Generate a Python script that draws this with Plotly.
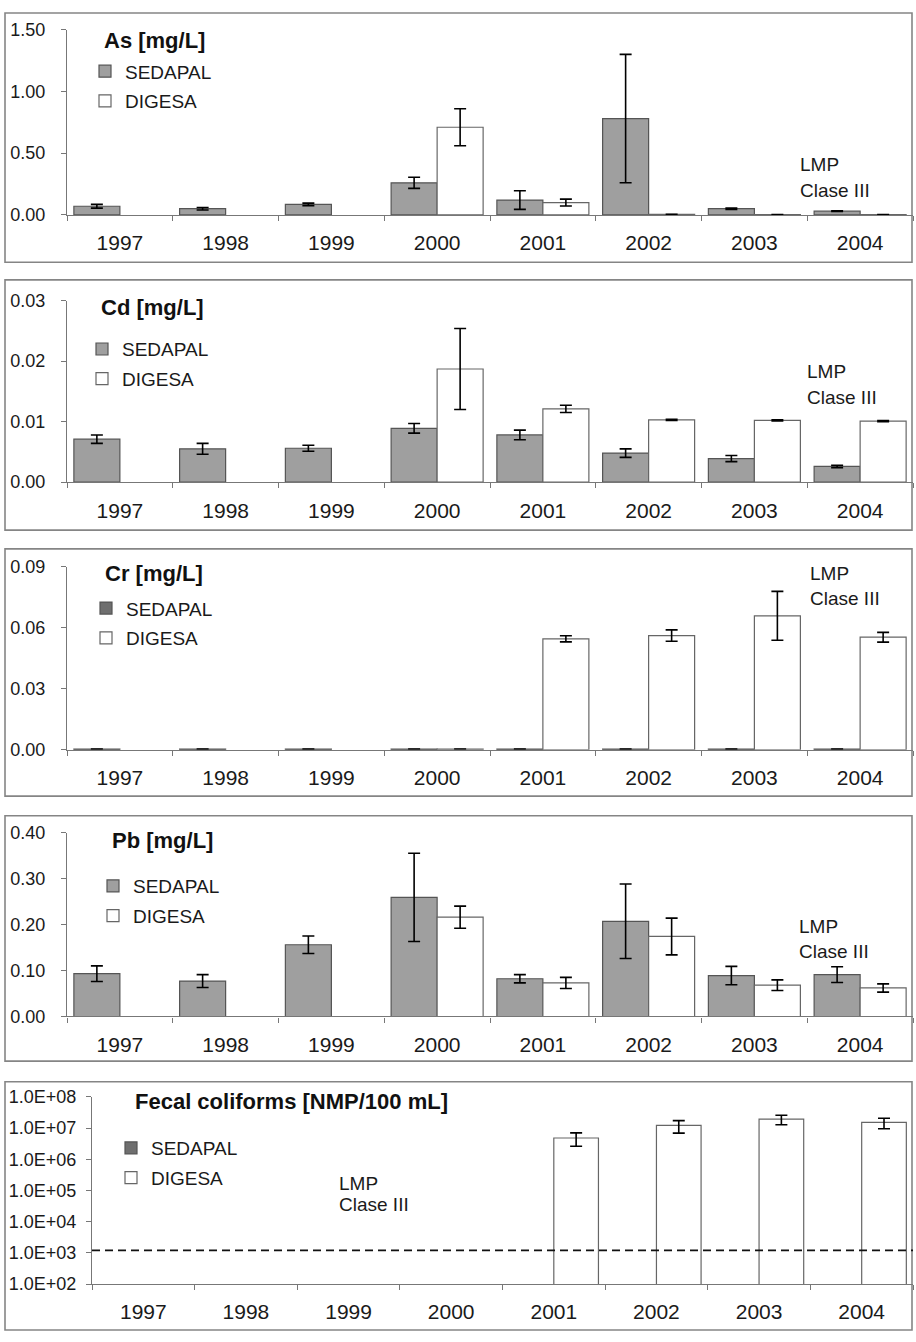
import plotly.graph_objects as go

W, H = 916, 1342

years = ['1997', '1998', '1999', '2000', '2001', '2002', '2003', '2004']
series_names = ['SEDAPAL', 'DIGESA']

# As [mg/L]
as_sedapal = [0.07, 0.05, 0.085, 0.26, 0.12, 0.78, 0.05, 0.03]
as_sedapal_err = [0.015, 0.01, 0.01, 0.045, 0.075, 0.52, 0.005, 0.003]
as_digesa = [None, None, None, 0.71, 0.10, 0.004, 0.003, 0.003]
as_digesa_err = [0, 0, 0, 0.15, 0.028, 0, 0, 0]

# Cd [mg/L]
cd_sedapal = [0.0071, 0.0055, 0.0056, 0.0089, 0.0078, 0.0048, 0.0039, 0.0026]
cd_sedapal_err = [0.0007, 0.0009, 0.0005, 0.0008, 0.0008, 0.0007, 0.0005, 0.0002]
cd_digesa = [None, None, None, 0.0187, 0.0121, 0.0103, 0.0102, 0.0101]
cd_digesa_err = [0, 0, 0, 0.0067, 0.0006, 0.0001, 0.0001, 0.0001]

# Cr [mg/L]
cr_sedapal = [0.0004, 0.0004, 0.0004, 0.0004, 0.0004, 0.0004, 0.0004, 0.0004]
cr_sedapal_err = [0, 0, 0, 0, 0, 0, 0, 0]
cr_digesa = [None, None, None, 0.0004, 0.0545, 0.0561, 0.0658, 0.0553]
cr_digesa_err = [0, 0, 0, 0, 0.0015, 0.0028, 0.012, 0.0024]

# Pb [mg/L]
pb_sedapal = [0.093, 0.077, 0.156, 0.259, 0.082, 0.207, 0.089, 0.091]
pb_sedapal_err = [0.017, 0.014, 0.019, 0.096, 0.009, 0.081, 0.020, 0.017]
pb_digesa = [None, None, None, 0.216, 0.073, 0.174, 0.068, 0.062]
pb_digesa_err = [0, 0, 0, 0.024, 0.012, 0.040, 0.0115, 0.009]

# Fecal coliforms [NMP/100 mL]
fc_sedapal = [None, None, None, None, None, None, None, None]
fc_sedapal_err = [0, 0, 0, 0, 0, 0, 0, 0]
fc_digesa = [None, None, None, None, 4.8e6, 1.21e7, 1.92e7, 1.51e7]
fc_digesa_err = [0, 0, 0, 0, 2.2e6, 5.2e6, 6.5e6, 5.6e6]
fc_lmp = 1200

fc_tickvals = [1e2, 1e3, 1e4, 1e5, 1e6, 1e7, 1e8]
fc_ticktext = ['1.0E+02', '1.0E+03', '1.0E+04', '1.0E+05', '1.0E+06', '1.0E+07', '1.0E+08']

titles = ['As [mg/L]', 'Cd [mg/L]', 'Cr [mg/L]', 'Pb [mg/L]', 'Fecal coliforms [NMP/100 mL]']

FONT = 'Liberation Sans, Arial, sans-serif'
SED_FILL = '#9f9f9f'
SED_LINE = '#555555'
DIG_LINE = '#666666'
AX = '#777777'


def px(x):
    return x / W


def py(y):
    return 1 - y / H


# layout geometry (pixels)
panels = [
    dict(box=(5, 3, 912, 256), plot=(67, 20, 913, 208), yr=[0, 1.5], dt=0.5, fmt='.2f',
         title=(102, 31), leg=(109, 63), lmp=(798, 157, 183), sedc=SED_FILL),
    dict(box=(5, 274, 912, 528), plot=(67, 295, 913, 479.3), yr=[0, 0.03], dt=0.01, fmt='.2f',
         title=(99, 302), leg=(106, 345), lmp=(805, 367, 393), sedc=SED_FILL),
    dict(box=(5, 547, 912, 798), plot=(67, 565, 913, 751), yr=[0, 0.09], dt=0.03, fmt='.2f',
         title=(103, 572), leg=(110, 608), lmp=(808, 572, 597), sedc='#6f6f6f'),
    dict(box=(5, 818, 912, 1067), plot=(67, 835, 913, 1021.7), yr=[0, 0.4], dt=0.1, fmt='.2f',
         title=(110, 843), leg=(117, 890), lmp=(797, 930, 956), sedc=SED_FILL),
    dict(box=(5, 1088, 912, 1340), plot=(92, 1103.3, 913, 1293.3), yr=[2, 8], dt=None, fmt=None,
         title=(133, 1108), leg=(135, 1156), lmp=(337, 1191, 1213), sedc='#6f6f6f'),
]

data = [
    (as_sedapal, as_sedapal_err, as_digesa, as_digesa_err),
    (cd_sedapal, cd_sedapal_err, cd_digesa, cd_digesa_err),
    (cr_sedapal, cr_sedapal_err, cr_digesa, cr_digesa_err),
    (pb_sedapal, pb_sedapal_err, pb_digesa, pb_digesa_err),
    (fc_sedapal, fc_sedapal_err, fc_digesa, fc_digesa_err),
]

fig = go.Figure()
layout = dict(
    width=W, height=H, margin=dict(l=0, r=0, t=0, b=0),
    paper_bgcolor='white', plot_bgcolor='rgba(0,0,0,0)',
    barmode='group', bargap=0.13, bargroupgap=0.0,
    font=dict(family=FONT, color='#111111'),
    shapes=[], annotations=[],
)

for i, (p, d) in enumerate(zip(panels, data)):
    n = '' if i == 0 else str(i + 1)
    xa, ya = 'x' + n, 'y' + n
    leg = 'legend' + n
    sed, sed_e, dig, dig_e = d
    ebar = dict(type='data', visible=True, color='#000000', thickness=1.6, width=6)
    fig.add_trace(go.Bar(
        x=years, y=sed, name=series_names[0], xaxis=xa, yaxis=ya, legend=leg,
        legendgroup='s' + n,
        marker=dict(color=p['sedc'], line=dict(color=SED_LINE, width=1.2)),
        error_y=dict(array=sed_e, **ebar), hoverinfo='x+y'))
    fig.add_trace(go.Bar(
        x=years, y=dig, name=series_names[1], xaxis=xa, yaxis=ya, legend=leg,
        legendgroup='d' + n,
        marker=dict(color='white', line=dict(color=DIG_LINE, width=1.2)),
        error_y=dict(array=dig_e, **ebar), hoverinfo='x+y'))

    x0, y0, x1, y1 = p['plot']
    xkey = 'xaxis' + n
    ykey = 'yaxis' + n
    layout[xkey] = dict(
        domain=[px(x0), px(x1)], anchor=ya, type='category',
        categoryorder='array', categoryarray=years,
        showline=True, linecolor=AX, linewidth=1.3, mirror=False,
        ticks='outside', tickson='boundaries', ticklen=5, tickcolor=AX, tickwidth=1,
        showgrid=False, zeroline=False,
        tickfont=dict(size=21, color='#1a1a1a', family=FONT), ticklabelstandoff=9,
        fixedrange=True,
    )
    yax = dict(
        domain=[py(y1), py(y0)], anchor=xa,
        showline=True, linecolor=AX, linewidth=1.3,
        ticks='outside', ticklen=5, tickcolor=AX, tickwidth=1,
        showgrid=False, zeroline=False,
        tickfont=dict(size=18, color='#1a1a1a', family=FONT), ticklabelstandoff=12,
        fixedrange=True,
    )
    if i == 4:
        yax.update(type='log', range=p['yr'], tickvals=fc_tickvals, ticktext=fc_ticktext,
                   ticklabelstandoff=6)
    else:
        yax.update(range=p['yr'], dtick=p['dt'], tick0=0, tickformat=p['fmt'])
    layout[ykey] = yax

    # panel frame
    bx0, by0, bx1, by1 = p['box']
    layout['shapes'].append(dict(type='rect', xref='paper', yref='paper',
                                 x0=px(bx0), x1=px(bx1), y0=py(by1), y1=py(by0),
                                 line=dict(color='#858585', width=1.6), layer='below'))
    # title
    tx, ty = p['title']
    layout['annotations'].append(dict(text='<b>' + titles[i] + '</b>', xref='paper', yref='paper',
                                      x=px(tx), y=py(ty), xanchor='left', yanchor='middle',
                                      showarrow=False, font=dict(size=22, color='#111111', family=FONT)))
    # LMP text
    lx, ly1, ly2 = p['lmp']
    for txt, yy in (('LMP', ly1), ('Clase III', ly2)):
        layout['annotations'].append(dict(text=txt, xref='paper', yref='paper',
                                          x=px(lx), y=py(yy), xanchor='left', yanchor='middle',
                                          showarrow=False, font=dict(size=19, color='#1a1a1a', family=FONT)))
    # legend
    gx, gy = p['leg']
    layout[leg] = dict(x=px(gx - 24), y=py(gy - 20), xanchor='left', yanchor='top',
                       xref='paper', yref='paper',
                       bgcolor='rgba(0,0,0,0)', font=dict(size=19, color='#1a1a1a', family=FONT),
                       tracegroupgap=2, traceorder='grouped', itemclick=False, itemdoubleclick=False)

# LMP limit line for fecal coliforms
layout['shapes'].append(dict(type='line', xref='x5 domain', yref='y5', x0=0, x1=1,
                             y0=fc_lmp, y1=fc_lmp,
                             line=dict(color='#111111', width=1.6, dash='8px,5px')))

fig.update_layout(**layout)
fig.write_html('out.html')
